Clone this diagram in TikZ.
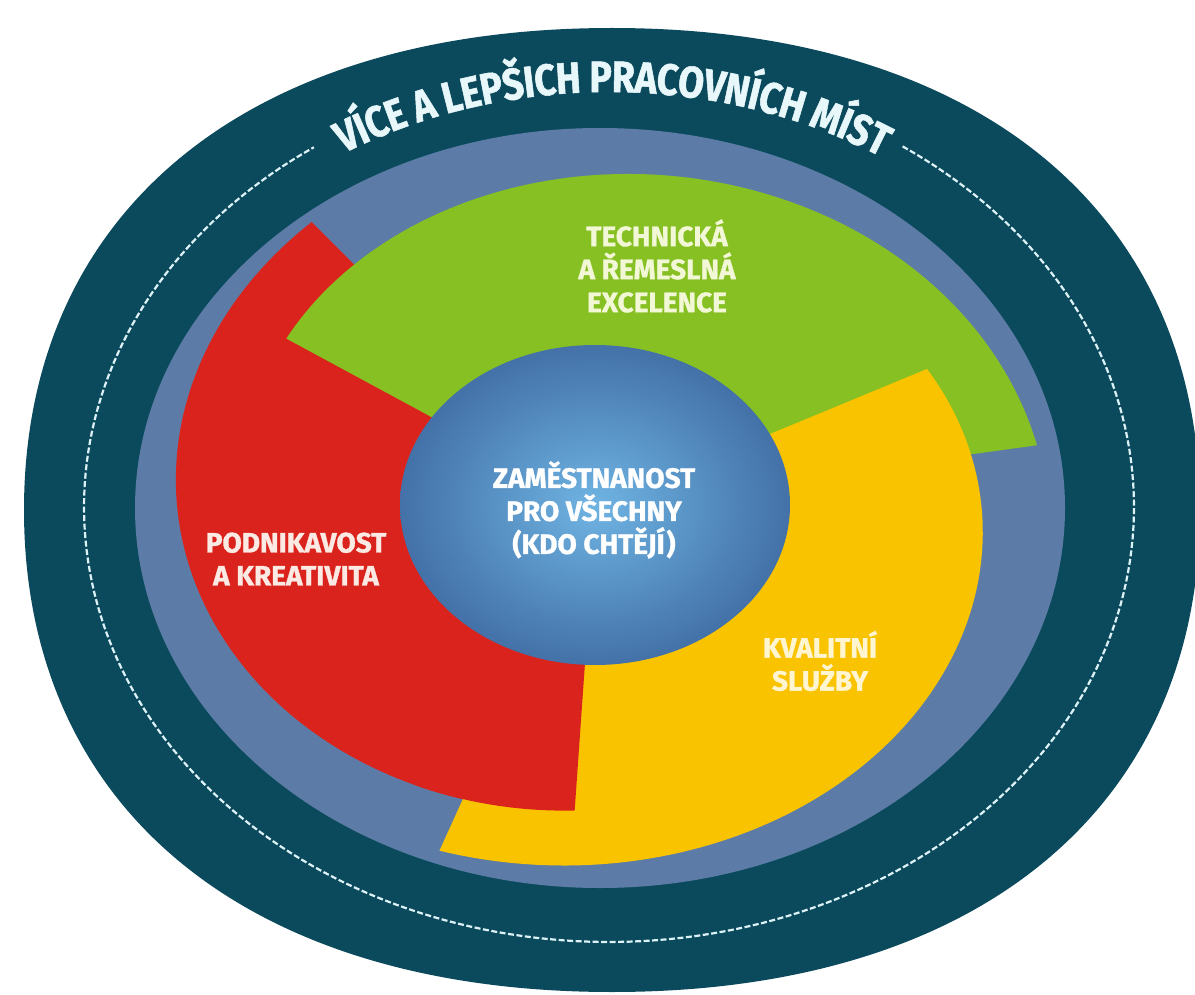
\documentclass[tikz,border=0pt]{standalone}
\usepackage{fontspec}
\setmainfont{Fira Sans}
\newfontfamily\lblfont{Fira Sans}[BoldFeatures={FakeBold=1.2}]
\newfontfamily\ttlfont{Fira Sans}[FakeStretch=0.85,BoldFeatures={FakeBold=1.2}]
\usetikzlibrary{decorations.text}

\definecolor{darkring}{HTML}{0B4A5C}
\definecolor{slate}{HTML}{5C7CA7}
\definecolor{sgreen}{HTML}{87C023}
\definecolor{syellow}{HTML}{F9C300}
\definecolor{sred}{HTML}{DA231C}
\definecolor{ballin}{HTML}{6FB4E3}
\definecolor{ballout}{HTML}{4371A8}
\definecolor{dashcol}{HTML}{DDF2F6}
\definecolor{titlecol}{HTML}{E8F7FA}
\definecolor{txtgreen}{HTML}{F2F7D5}
\definecolor{txtred}{HTML}{FBE9E4}
\definecolor{txtyellow}{HTML}{FFF5D0}

% spiral segment: #1 start angle, #2 end angle, #3 colour
\newcommand\spiralseg[3]{%
  \fill[#3] (596,506) -- plot[domain=#1:#2, samples=100, variable=\t]
    ({596+1.215*(305+63*(\t-#1)/137.2)*cos(\t)}, {506+(305+63*(\t-#1)/137.2)*sin(\t)}) -- cycle;}

\begin{document}
\begin{tikzpicture}[x=1pt,y=-1pt,
  lbl/.style={align=center, inner sep=0pt,
    font=\lblfont\bfseries\fontsize{28}{33}\selectfont},
  dashring/.style={draw=dashcol, line width=2.2pt, dash pattern=on 6pt off 2.5pt}]
\useasboundingbox (0,0) rectangle (1195,995);
\fill[white] (0,0) rectangle (1195,995);
\clip (0,0) rectangle (1195,995);

% outer dark ring (slightly squarish oval)
\fill[darkring] (1200,510) .. controls (1200,808.8) and (976.6,992) .. (612,992)
  .. controls (247.4,992) and (24,808.8) .. (24,510)
  .. controls (24,211.2) and (247.4,28) .. (612,28)
  .. controls (976.6,28) and (1200,211.2) .. (1200,510) -- cycle;
% dashed ring, open at the top for the title
\draw[dashring] plot[domain=-56:235.8, samples=200, variable=\t]
  ({609+525*cos(\t)}, {507+435*sin(\t)});
% title along the ring
\path[decorate, decoration={text along path, text align=center, raise=-15pt,
    text color=titlecol,
    text={|\ttlfont\bfseries\fontsize{44}{44}\selectfont|VÍCE A LEPŠICH PRACOVNÍCH MÍST}}]
  plot[domain=212:329, samples=120, variable=\t] ({609+522*cos(\t)}, {507+430*sin(\t)});

% slate disc
\fill[slate] (600,508) ellipse [x radius=465, y radius=380];

% spiral segments (cyclic overlap)
\spiralseg{93.3}{230.5}{sred}
\spiralseg{213.3}{350.5}{sgreen}
\spiralseg{333.3}{470.5}{syellow}
\spiralseg{93.3}{118}{sred}

% centre ball
\shade[inner color=ballin, outer color=ballout] (595,505) ellipse [x radius=195, y radius=160];

% labels
\node[lbl, text=txtgreen] (tech) at (657,266) {TECHNICKÁ\\A ŘEMESLNÁ\\EXCELENCE};
\node[lbl, text=white] (centre) at (594,510) {ZAMĚSTNANOST\\PRO VŠECHNY\\(KDO CHTĚJÍ)};
\node[lbl, text=txtred] (podn) at (296,559) {PODNIKAVOST\\A KREATIVITA};
\node[lbl, text=txtyellow] (kval) at (820,661) {KVALITNÍ\\SLUŽBY};
\end{tikzpicture}
\end{document}
